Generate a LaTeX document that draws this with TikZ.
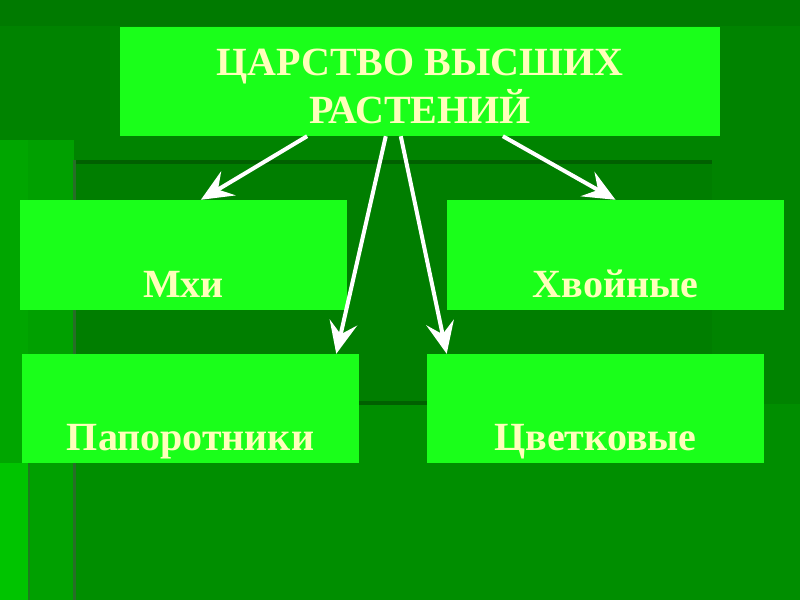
\documentclass[tikz,border=0pt]{standalone}
\usepackage{fontspec}
\setmainfont{Liberation Serif}
\usetikzlibrary{arrows.meta,calc}
\definecolor{boxgreen}{RGB}{26,255,26}
\definecolor{txtcream}{RGB}{255,255,187}
\definecolor{bgbase}{RGB}{0,131,0}
\definecolor{bgtop}{RGB}{0,122,0}
\definecolor{bgleft}{RGB}{0,160,0}
\definecolor{bgstrip}{RGB}{0,166,0}
\definecolor{bgbright}{RGB}{0,196,0}
\definecolor{bgpanel}{RGB}{0,126,0}
\definecolor{bglow}{RGB}{0,142,0}
\definecolor{bgline}{RGB}{0,96,0}
\definecolor{bgvline}{RGB}{40,110,40}
\tikzset{
  box/.style={rectangle, fill=boxgreen, draw=none, inner sep=0pt},
  lbl/.style={text=txtcream, font=\fontsize{40}{48}\selectfont\bfseries, inner sep=0pt, anchor=base},
  arr/.style={draw=white, line width=4pt, -{Stealth[length=32pt,width=28pt,inset=12pt]}}
}
\begin{document}
\begin{tikzpicture}[x=1pt,y=-1pt]
\useasboundingbox (0,0) rectangle (800,600);
% background layers
\fill[bgbase] (0,0) rectangle (800,600);
\fill[bgtop] (0,0) rectangle (800,26);
\fill[bgleft] (0,140) rectangle (74,600);
\fill[bgstrip] (0,140) rectangle (28,463);
\fill[bgbright] (0,463) rectangle (28,600);
\fill[bgvline!70!bgleft] (28,463) rectangle (30,600);
\fill[bgpanel] (74,160) rectangle (712,404);
\fill[bglow] (74,404) rectangle (800,600);
\fill[bgline] (74,160) rectangle (712,164);
\fill[bgline] (74,401) rectangle (712,405);
\fill[bgvline] (73,160) rectangle (76,600);
% boxes
\node[box, minimum width=600pt, minimum height=109pt] (top) at (420,81.5) {};
\node[box, minimum width=327pt, minimum height=110pt] (mxi) at (183.5,255) {};
\node[box, minimum width=337pt, minimum height=110pt] (hvoy) at (615.5,255) {};
\node[box, minimum width=337pt, minimum height=109pt] (pap) at (190.5,408.5) {};
\node[box, minimum width=337pt, minimum height=109pt] (cvet) at (595.5,408.5) {};
% texts
\node[lbl] (t1) at (420,75) {ЦАРСТВО ВЫСШИХ};
\node[lbl] (t2) at (420,123) {РАСТЕНИЙ};
\node[lbl] (l1) at (183.5,297) {Мхи};
\node[lbl] (l2) at (615.5,297) {Хвойные};
\node[lbl] (l3) at (190.5,450) {Папоротники};
\node[lbl] (l4) at (595.5,450) {Цветковые};
% arrows
\draw[arr] ($(top.south west)!0.312!(top.south east)$) -- ($(mxi.north west)!0.553!(mxi.north east)$);
\draw[arr] ($(top.south west)!0.443!(top.south east)$) -- ($(pap.north west)!0.932!(pap.north east)$);
\draw[arr] ($(top.south west)!0.468!(top.south east)$) -- ($(cvet.north west)!0.059!(cvet.north east)$);
\draw[arr] ($(top.south west)!0.638!(top.south east)$) -- (hvoy.north);
\end{tikzpicture}
\end{document}
